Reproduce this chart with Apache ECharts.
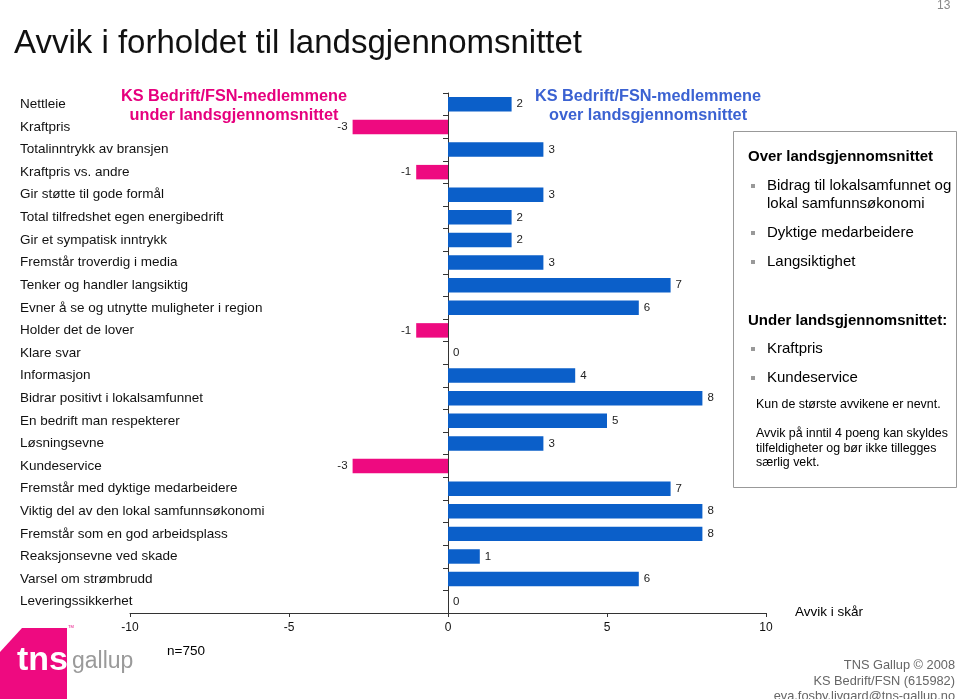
<!DOCTYPE html>
<html>
<head>
<meta charset="utf-8">
<script src="https://cdn.jsdelivr.net/npm/echarts@6/dist/echarts.min.js"></script>
<style>
html,body{margin:0;padding:0;background:#fff;}
#chart{width:959px;height:699px;}
</style>
</head>
<body>
<div id="chart"></div>
<script>
const categories = [
  "Nettleie",
  "Kraftpris",
  "Totalinntrykk av bransjen",
  "Kraftpris vs. andre",
  "Gir støtte til gode formål",
  "Total tilfredshet egen energibedrift",
  "Gir et sympatisk inntrykk",
  "Fremstår troverdig i media",
  "Tenker og handler langsiktig",
  "Evner å se og utnytte muligheter i region",
  "Holder det de lover",
  "Klare svar",
  "Informasjon",
  "Bidrar positivt i lokalsamfunnet",
  "En bedrift man respekterer",
  "Løsningsevne",
  "Kundeservice",
  "Fremstår med dyktige medarbeidere",
  "Viktig del av den lokal samfunnsøkonomi",
  "Fremstår som en god arbeidsplass",
  "Reaksjonsevne ved skade",
  "Varsel om strømbrudd",
  "Leveringssikkerhet"
];
const deviations = [2, -3, 3, -1, 3, 2, 2, 3, 7, 6, -1, 0, 4, 8, 5, 3, -3, 7, 8, 8, 1, 6, 0];
const xTicks = { min: -10, max: 10, interval: 5 };

const FONT = "Liberation Sans, Arial, sans-serif";
const BLUE = "#0b5fc9";
const PINK = "#ee0a80";

const chart = echarts.init(document.getElementById('chart'), null, {renderer: 'canvas'});

const barData = deviations.map(v => ({
  value: v,
  itemStyle: { color: v < 0 ? PINK : BLUE },
  label: { position: v < 0 ? 'left' : 'right' }
}));

const T = (x, y, text, extra) => ({
  type: 'text', x: x, y: y, z: 20,
  style: Object.assign({ text: text, fontFamily: FONT, fontSize: 14, fill: '#000', verticalAlign: 'top' }, extra || {})
});
const B = (x, y) => ({ type: 'rect', z: 20, shape: { x: x, y: y, width: 4, height: 4 }, style: { fill: '#999' } });

const option = {
  backgroundColor: '#fff',
  animation: false,
  grid: { left: 130, right: 193, top: 93, bottom: 86, containLabel: false, outerBoundsMode: 'none' },
  xAxis: {
    type: 'value',
    min: xTicks.min, max: xTicks.max, interval: xTicks.interval,
    splitLine: { show: false },
    axisLine: { show: true, onZero: false, lineStyle: { color: '#333', width: 1 } },
    axisTick: { show: true, length: 4, lineStyle: { color: '#333' } },
    axisLabel: { color: '#111', fontFamily: FONT, fontSize: 12, margin: 9 }
  },
  yAxis: [{
    type: 'category',
    data: categories,
    inverse: true,
    position: 'left',
    axisLine: { show: false, onZero: false },
    axisTick: { show: false },
    axisLabel: { align: 'left', margin: 110, color: '#111', fontFamily: FONT, fontSize: 13.5, hideOverlap: false },
    splitLine: { show: false }
  }, {
    type: 'category',
    data: categories,
    inverse: true,
    position: 'left',
    axisLine: { show: true, onZero: true, lineStyle: { color: '#333', width: 1 } },
    axisTick: { show: true, length: 5, lineStyle: { color: '#333' } },
    axisLabel: { show: false },
    splitLine: { show: false }
  }],
  series: [{
    type: 'bar',
    data: barData,
    barWidth: '64%',
    yAxisIndex: 0,
    label: {
      show: true, distance: 5, color: '#222', fontFamily: FONT, fontSize: 11.5,
      formatter: p => String(p.value)
    }
  }],
  graphic: [
    T(937, 0, '13', { fontSize: 12, fill: '#888' }),
    T(14, 27, 'Avvik i forholdet til landsgjennomsnittet', { fontSize: 33, fill: '#111' }),
    { type: 'text', x: 234, y: 87, z: 20,
      style: { text: 'KS Bedrift/FSN-medlemmene\nunder landsgjennomsnittet', fontFamily: FONT, fontSize: 16.3, fontWeight: 'bold',
        fill: '#e6007e', align: 'center', verticalAlign: 'top', lineHeight: 19 } },
    { type: 'text', x: 648, y: 87, z: 20,
      style: { text: 'KS Bedrift/FSN-medlemmene\nover landsgjennomsnittet', fontFamily: FONT, fontSize: 16.3, fontWeight: 'bold',
        fill: '#3b62d2', align: 'center', verticalAlign: 'top', lineHeight: 19 } },
    { type: 'rect', shape: { x: 733.5, y: 131.5, width: 223, height: 356 },
      style: { fill: '#fff', stroke: '#999', lineWidth: 1 }, z: 15 },
    T(748, 149, 'Over landsgjennomsnittet', { fontSize: 15, fontWeight: 'bold' }),
    B(751, 184),
    T(767, 177, 'Bidrag til lokalsamfunnet og\nlokal samfunnsøkonomi', { fontSize: 15, lineHeight: 18 }),
    B(751, 231),
    T(767, 225, 'Dyktige medarbeidere', { fontSize: 15 }),
    B(751, 260),
    T(767, 254, 'Langsiktighet', { fontSize: 15 }),
    T(748, 313, 'Under landsgjennomsnittet:', { fontSize: 15, fontWeight: 'bold' }),
    B(751, 347),
    T(767, 341, 'Kraftpris', { fontSize: 15 }),
    B(751, 376),
    T(767, 370, 'Kundeservice', { fontSize: 15 }),
    T(756, 399, 'Kun de største avvikene er nevnt.', { fontSize: 12.4 }),
    T(756, 426, 'Avvik på inntil 4 poeng kan skyldes\ntilfeldigheter og bør ikke tillegges\nsærlig vekt.', { fontSize: 12.4, lineHeight: 14.8 }),
    T(795, 605, 'Avvik i skår', { fontSize: 13.5 }),
    T(167, 644, 'n=750', { fontSize: 13.5 }),
    { type: 'text', x: 955, y: 658, z: 20,
      style: { text: 'TNS Gallup © 2008\nKS Bedrift/FSN (615982)\neva.fosby.livgard@tns-gallup.no', fontFamily: FONT, fontSize: 12.8,
        fill: '#666', align: 'right', verticalAlign: 'top', lineHeight: 15.5 } },
    { type: 'polygon', z: 18,
      shape: { points: [[22, 628], [67, 628], [67, 699], [0, 699], [0, 652]] },
      style: { fill: '#ee0a80' } },
    T(17, 644, 'tns', { fontSize: 34, fontWeight: 'bold', fill: '#fff' }),
    T(72, 650, 'gallup', { fontSize: 23, fill: '#9a9a9a' }),
    T(68, 625, 'TM', { fontSize: 4, fill: '#e6007e' })
  ]
};
chart.setOption(option);
</script>
</body>
</html>
